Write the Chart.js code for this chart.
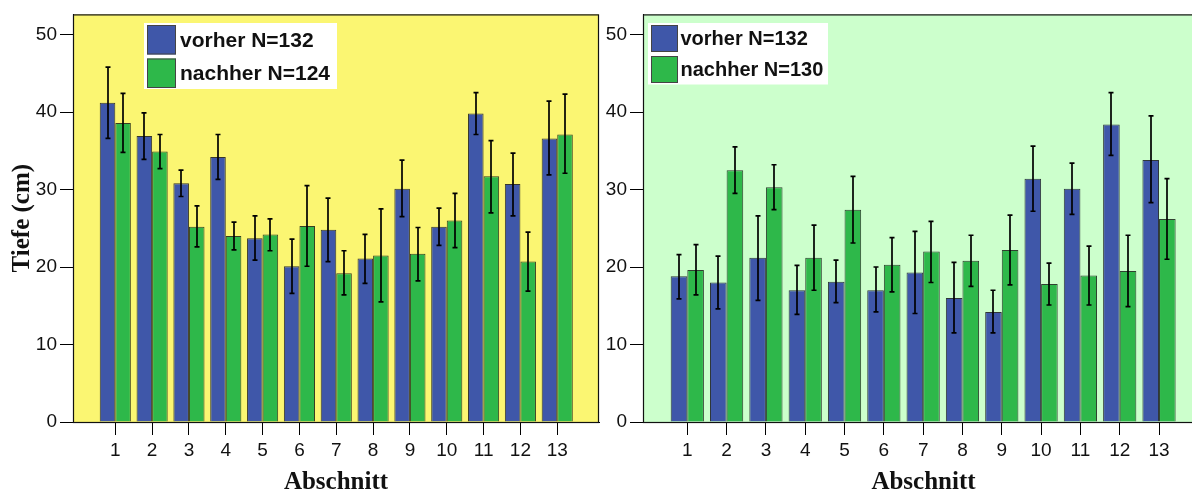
<!DOCTYPE html>
<html><head><meta charset="utf-8">
<script src="https://cdn.jsdelivr.net/npm/chart.js@4"></script>
<style>
html,body{margin:0;padding:0;background:#fff;overflow:hidden;width:1192px;height:489px;position:relative}
#l{position:absolute;left:0;top:0}
#r{position:absolute;left:600px;top:0}
</style>
</head><body>
<canvas id="l" width="600" height="489"></canvas>
<canvas id="r" width="604" height="489"></canvas>
<script>
// ---- data ----
const categories = [1,2,3,4,5,6,7,8,9,10,11,12,13];
const yTickValues = [0,10,20,30,40,50];
const seriesNames = ['vorher', 'nachher'];
const leftN = ['N=132', 'N=124'];
const rightN = ['N=132', 'N=130'];
const yTitle = 'Tiefe (cm)';
const xTitle = 'Abschnitt';

const leftVorher     = [41.2, 36.9, 30.8, 34.2, 23.7, 20.1, 24.8, 21.1, 30.1, 25.2, 39.8, 30.7, 36.6];
const leftVorherHi   = [45.8, 39.9, 32.5, 37.1, 26.6, 23.6, 28.9, 24.2, 33.8, 27.6, 42.5, 34.7, 41.4];
const leftVorherLo   = [36.6, 33.9, 29.1, 31.3, 20.9, 16.6, 20.7, 17.9, 26.5, 22.8, 37.1, 26.6, 31.9];
const leftNachher    = [38.6, 34.9, 25.2, 24.0, 24.2, 25.3, 19.2, 21.5, 21.7, 26.0, 31.7, 20.7, 37.1];
const leftNachherHi  = [42.4, 37.1, 27.9, 25.8, 26.2, 30.5, 22.1, 27.5, 25.1, 29.5, 36.3, 24.5, 42.3];
const leftNachherLo  = [34.8, 32.7, 22.6, 22.2, 22.1, 20.1, 16.4, 15.5, 18.2, 22.5, 27.0, 16.9, 32.1];

const rightVorher    = [18.8, 18.0, 21.2, 17.0, 18.1, 17.0, 19.3, 16.0, 14.2, 31.4, 30.1, 38.4, 33.8];
const rightVorherHi  = [21.6, 21.4, 26.6, 20.2, 20.9, 20.0, 24.6, 20.6, 17.0, 35.6, 33.4, 42.5, 39.5];
const rightVorherLo  = [15.9, 14.6, 15.7, 13.9, 15.4, 14.2, 14.0, 11.5, 11.5, 27.2, 26.8, 34.4, 28.3];
const rightNachher   = [19.6, 32.5, 30.3, 21.2, 27.4, 20.3, 22.0, 20.8, 22.2, 17.8, 18.9, 19.5, 26.2];
const rightNachherHi = [22.9, 35.5, 33.2, 25.4, 31.7, 23.8, 25.9, 24.1, 26.7, 20.5, 22.7, 24.1, 31.4];
const rightNachherLo = [16.4, 29.5, 27.4, 17.0, 23.1, 16.8, 18.0, 17.5, 17.7, 15.1, 15.1, 14.9, 21.0];

// ---- styling ----
const BLUE = '#3F57A9', GREEN = '#2EB84A';

const panelPlugin = {
  id: 'panel',
  beforeDraw(chart, args, o) {
    const {ctx, chartArea: a} = chart;
    ctx.save();
    ctx.fillStyle = o.bg;
    ctx.fillRect(a.left, a.top, a.right - a.left, a.bottom - a.top);
    ctx.restore();
  },
  afterDatasetsDraw(chart, args, o) {
    const {ctx, chartArea: a} = chart;
    const ys = chart.scales.y;
    ctx.save();
    // error bars
    ctx.strokeStyle = '#000';
    ctx.lineWidth = 1.7;
    chart.data.datasets.forEach((ds, di) => {
      const meta = chart.getDatasetMeta(di);
      meta.data.forEach((bar, i) => {
        const yh = ys.getPixelForValue(ds.errHi[i]);
        const yl = ys.getPixelForValue(ds.errLo[i]);
        const x = Math.round(bar.x);
        ctx.beginPath();
        ctx.moveTo(x, yh); ctx.lineTo(x, yl);
        ctx.moveTo(x - 2.5, yh); ctx.lineTo(x + 2.5, yh);
        ctx.moveTo(x - 2.5, yl); ctx.lineTo(x + 2.5, yl);
        ctx.stroke();
      });
    });
    // frame
    ctx.lineWidth = 1.2;
    ctx.strokeStyle = '#111';
    ctx.strokeRect(a.left + 0.5, a.top + 0.5, a.right - a.left - 1, a.bottom - a.top);
    // legend
    const L = o.legend;
    ctx.fillStyle = '#fff';
    ctx.fillRect(L.x, L.y, L.w, L.h);
    chart.data.datasets.forEach((ds, di) => {
      const sy = L.sy[di];
      ctx.fillStyle = ds.backgroundColor;
      ctx.fillRect(L.sx, sy, L.sw, L.sh);
      ctx.strokeStyle = '#444';
      ctx.lineWidth = 1;
      ctx.strokeRect(L.sx + 0.5, sy + 0.5, L.sw - 1, L.sh - 1);
      ctx.fillStyle = '#111';
      ctx.font = 'bold ' + L.font + 'px "Liberation Sans", Arial, sans-serif';
      ctx.textBaseline = 'middle';
      ctx.textAlign = 'left';
      ctx.fillText(ds.label, L.tx, sy + L.sh / 2 + 1);
    });
    // axis titles
    ctx.fillStyle = '#111';
    ctx.font = 'bold 25px "Liberation Serif", "Times New Roman", serif';
    ctx.textAlign = 'center';
    ctx.textBaseline = 'alphabetic';
    ctx.fillText(xTitle, (a.left + a.right) / 2, o.xTitleY);
    if (o.showYTitle) {
      ctx.save();
      ctx.translate(o.yTitleX, (a.top + a.bottom) / 2);
      ctx.rotate(-Math.PI / 2);
      ctx.fillText(yTitle, 0, 0);
      ctx.restore();
    }
    ctx.restore();
  }
};

function makeChart(id, v, vHi, vLo, n, nHi, nLo, names, cfg) {
  const tickFont = {family: '"Liberation Sans", Arial, sans-serif', size: 19};
  return new Chart(document.getElementById(id), {
    type: 'bar',
    data: {
      datasets: [
        {label: seriesNames[0] + ' ' + names[0], data: categories.map((c, i) => ({x: c, y: v[i]})),
         errHi: vHi, errLo: vLo, backgroundColor: BLUE, borderColor: 'rgba(20,20,30,0.85)', borderWidth: 1},
        {label: seriesNames[1] + ' ' + names[1], data: categories.map((c, i) => ({x: c, y: n[i]})),
         errHi: nHi, errLo: nLo, backgroundColor: GREEN, borderColor: 'rgba(20,30,20,0.85)', borderWidth: 1}
      ]
    },
    options: {
      responsive: false,
      animation: false,
      devicePixelRatio: 1,
      categoryPercentage: 0.845,
      barPercentage: 1.0,
      layout: {padding: {left: 0, top: 13, right: cfg.padRight, bottom: 0}},
      plugins: {
        legend: {display: false},
        tooltip: {enabled: false},
        panel: cfg.panel
      },
      scales: {
        x: {
          type: 'linear', min: cfg.xmin, max: cfg.xmax, offset: false,
          afterBuildTicks: s => { s.ticks = categories.map(c => ({value: c})); },
          afterFit: s => { s.height = 67; },
          ticks: {font: tickFont, color: '#111', padding: 4, autoSkip: false, maxRotation: 0},
          grid: {drawOnChartArea: false, drawTicks: true, tickLength: 13, color: '#000', offset: false},
          border: {display: true, color: '#000', width: 1}
        },
        y: {
          min: 0, max: 52.6,
          afterBuildTicks: s => { s.ticks = yTickValues.map(t => ({value: t})); },
          afterFit: s => { s.width = cfg.yWidth; },
          ticks: {font: tickFont, color: '#111', padding: 3},
          grid: {drawOnChartArea: false, drawTicks: true, tickLength: 13, color: '#000'},
          border: {display: true, color: '#000', width: 1}
        }
      }
    },
    plugins: [panelPlugin]
  });
}

makeChart('l', leftVorher, leftVorherHi, leftVorherLo, leftNachher, leftNachherHi, leftNachherLo, leftN, {
  xmin: -0.1485, xmax: 14.134, yWidth: 73, padRight: 1,
  panel: {
    bg: '#FBF672', showYTitle: true, yTitleX: 29, xTitleY: 488.5,
    legend: {x: 144, y: 23, w: 193, h: 66, sx: 147, sw: 29, sh: 29.5, sy: [25, 58.5], tx: 180, font: 21}
  }
});

makeChart('r', rightVorher, rightVorherHi, rightVorherLo, rightNachher, rightNachherHi, rightNachherLo, rightN, {
  xmin: -0.127, xmax: 14.144, yWidth: 43, padRight: 0,
  panel: {
    bg: '#CCFFCC', showYTitle: false, xTitleY: 488.5,
    legend: {x: 48, y: 23, w: 180, h: 61.5, sx: 51, sw: 27, sh: 27, sy: [25, 56], tx: 80.5, font: 20}
  }
});
</script>
</body></html>
